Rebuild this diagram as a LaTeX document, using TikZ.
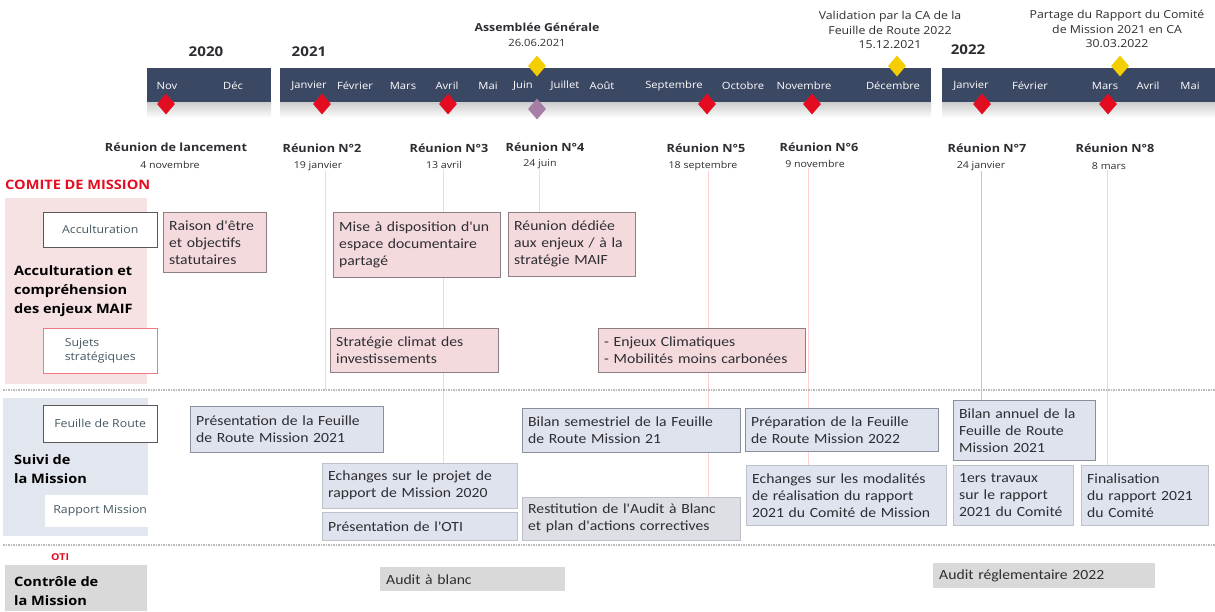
\documentclass[tikz,border=0pt]{standalone}
\usepackage{fontspec}
\setmainfont[FakeStretch=1.12]{Open Sans}
\newfontfamily\boxfont[FakeStretch=1.12]{Carlito}
\usetikzlibrary{shapes.geometric,backgrounds}

\definecolor{navy}{RGB}{59,72,100}
\definecolor{mred}{RGB}{228,12,32}
\definecolor{myellow}{RGB}{244,206,0}
\definecolor{mpurple}{RGB}{165,125,165}
\definecolor{pinkfill}{RGB}{244,218,221}
\definecolor{pinkpanel}{RGB}{246,225,227}
\definecolor{pinkline}{RGB}{140,126,130}
\definecolor{bluefill}{RGB}{223,227,237}
\definecolor{bluepanel}{RGB}{226,230,239}
\definecolor{blueline}{RGB}{138,143,158}
\definecolor{greyfill}{RGB}{217,217,217}
\definecolor{txt}{RGB}{45,45,50}
\definecolor{tagtxt}{RGB}{70,88,98}

\tikzset{
  monthlbl/.style={text=white, font=\fontsize{10}{11}\selectfont, inner sep=0pt},
  yearlbl/.style={font=\bfseries\fontsize{13.5}{15}\selectfont, text=txt, inner sep=0pt},
  meetlbl/.style={font=\bfseries\fontsize{11.3}{13}\selectfont, text=txt, inner sep=0pt},
  datelbl/.style={font=\fontsize{9.5}{10}\selectfont, text=txt, inner sep=0pt},
  annolbl/.style={font=\fontsize{11}{14.5}\selectfont, text=txt, align=center, inner sep=0pt},
  jalon/.style={diamond, minimum width=18pt, minimum height=21pt, inner sep=0pt},
  reddia/.style={jalon, fill=mred},
  yellowdia/.style={jalon, fill=myellow},
  purpledia/.style={jalon, fill=mpurple},
  vline/.style={draw=red!18, line width=0.8pt},
  sep/.style={draw=gray!55, densely dotted, line width=1.5pt},
  cmbox/.style={draw=pinkline, fill=pinkfill, anchor=north west, align=left,
    inner xsep=6pt, inner ysep=2pt, font=\boxfont\fontsize{14}{17}\selectfont, text=txt},
  subox/.style={cmbox, draw=blueline, fill=bluefill},
  subox2/.style={subox, draw=bluefill!85!black},
  ctrlbox/.style={cmbox, draw=none, fill=greyfill},
  tagbox/.style={draw=gray!70!black, fill=white, anchor=north west, inner sep=0pt,
    font=\fontsize{11}{14}\selectfont, text=tagtxt},
  section/.style={font=\bfseries\fontsize{13}{19}\selectfont, text=black,
    align=left, anchor=west, inner sep=0pt}
}

\begin{document}
\begin{tikzpicture}[x=1pt,y=-1pt]
  \useasboundingbox (0,0) rectangle (1215,611);

  % timeline bars
  \fill[navy] (147,68) rectangle (271,102);
  \fill[navy] (280,68) rectangle (931,102);
  \fill[navy] (942,68) rectangle (1215,102);
  \shade[top color=gray!40, bottom color=white] (147,102) rectangle (271,118);
  \shade[top color=gray!40, bottom color=white] (280,102) rectangle (931,118);
  \shade[top color=gray!40, bottom color=white] (942,102) rectangle (1215,118);

  \node[yearlbl] (y20) at (206,52) {2020};
  \node[yearlbl] (y21) at (309,52) {2021};
  \node[yearlbl] (y22) at (968,50) {2022};

  \foreach \x/\m in {167/Nov, 233/Déc, 309/Janvier, 355/Février, 403/Mars,
      447/Avril, 488/Mai, 523/Juin, 565/Juillet, 602/Août, 674/Septembre,
      743/Octobre, 804/Novembre, 893/Décembre, 971/Janvier, 1030/Février,
      1105/Mars, 1148/Avril, 1190/Mai}
    \node[monthlbl] (m\x) at (\x,86) {\m};

  % jalons
  \node[reddia] (d1) at (166,104) {};
  \node[reddia] (d2) at (322,104) {};
  \node[reddia] (d3) at (448,104) {};
  \node[reddia] (d5) at (707,104) {};
  \node[reddia] (d6) at (812,104) {};
  \node[reddia] (d7) at (982,104) {};
  \node[reddia] (d8) at (1108,104) {};
  \node[purpledia] (d4) at (537,109) {};
  \node[yellowdia] (ag-d) at (537,66) {};
  \node[yellowdia] (val-d) at (897,66) {};
  \node[yellowdia] (part-d) at (1120,66) {};

  \node[annolbl, font=\bfseries\fontsize{11}{12}\selectfont] (ag) at (537,27) {Assemblée Générale};
  \node[annolbl, font=\fontsize{10}{11}\selectfont] (agdate) at (537,43) {26.06.2021};
  \node[annolbl] (val) at (890,30) {Validation par la CA de la\\Feuille de Route 2022\\15.12.2021};
  \node[annolbl] (part) at (1117,29) {Partage du Rapport du Comité\\de Mission 2021 en CA\\30.03.2022};

  % reunions
  \node[meetlbl] (r1) at (176,147) {Réunion de lancement};
  \node[datelbl] (r1d) at (170,165) {4 novembre};
  \node[meetlbl] (r2) at (322,148) {Réunion N°2};
  \node[datelbl] (r2d) at (318,166) {19 janvier};
  \node[meetlbl] (r3) at (449,148) {Réunion N°3};
  \node[datelbl] (r3d) at (444,165) {13 avril};
  \node[meetlbl] (r4) at (545,147) {Réunion N°4};
  \node[datelbl] (r4d) at (540,164) {24 juin};
  \node[meetlbl] (r5) at (706,148) {Réunion N°5};
  \node[datelbl] (r5d) at (703,166) {18 septembre};
  \node[meetlbl] (r6) at (819,147) {Réunion N°6};
  \node[datelbl] (r6d) at (815,164) {9 novembre};
  \node[meetlbl] (r7) at (987,148) {Réunion N°7};
  \node[datelbl] (r7d) at (981,166) {24 janvier};
  \node[meetlbl] (r8) at (1115,148) {Réunion N°8};
  \node[datelbl] (r8d) at (1109,166) {8 mars};

  % left panels
  \fill[pinkpanel] (5,198) rectangle (147,384);
  \fill[bluepanel] (3,398) rectangle (148,536);
  \fill[greyfill] (5,565) rectangle (147,611);
  \draw[sep] (3,390) -- (1215,390);
  \draw[sep] (3,545) -- (1215,545);

  \node[section, text=mred] (cdm) at (5,185) {COMITE DE MISSION};
  \node[tagbox, minimum width=114pt, minimum height=35pt] (tacc) at (43,212) {Acculturation};
  \node[section] (acc) at (14,291) {Acculturation et\\compréhension\\des enjeux MAIF};
  \node[tagbox, draw=mred!55, minimum width=114pt, minimum height=45pt, align=left] (tsuj) at (43,328) {Sujets\\stratégiques};

  \node[tagbox, minimum width=114pt, minimum height=37pt] (tfdr) at (43,405) {Feuille de Route};
  \node[section] (suivi) at (14,469) {Suivi de\\la Mission};
  \node[tagbox, draw=none, minimum width=110pt, minimum height=32pt] (trm) at (45,495) {Rapport Mission};

  \node[section, text=mred, font=\bfseries\fontsize{9.5}{10}\selectfont] (oti) at (51,557) {OTI};
  \node[section] (ctrl) at (14,591) {Contrôle de\\la Mission};

  % comite de mission
  \node[cmbox, text width=91pt, minimum height=60pt] (raison) at (163,212) {Raison d'être\\et objectifs\\statutaires};
  \node[cmbox, text width=155pt, minimum height=65pt] (mise) at (333,212) {Mise à disposition d'un\\espace documentaire\\partagé};
  \node[cmbox, text width=115pt, minimum height=64pt] (dediee) at (508,212) {Réunion dédiée\\aux enjeux / à la\\stratégie MAIF};
  \node[cmbox, text width=156pt, minimum height=44pt] (climat) at (330,328) {Stratégie climat des\\investissements};
  \node[cmbox, text width=195pt, minimum height=44pt] (enjeux) at (598,328) {- Enjeux Climatiques\\- Mobilités moins carbonées};

  % suivi de la mission
  \node[subox, text width=181pt, minimum height=46pt] (pres21) at (190,406) {Présentation de la Feuille\\de Route Mission 2021};
  \node[subox2, text width=183pt, minimum height=45pt] (echproj) at (322,463) {Echanges sur le projet de\\rapport de Mission 2020};
  \node[subox2, text width=183pt, minimum height=28pt] (oti-p) at (322,512) {Présentation de l'OTI};
  \node[subox, text width=206pt, minimum height=44pt] (bilsem) at (522,408) {Bilan semestriel de la Feuille\\de Route Mission 21};
  \node[subox2, fill=bluefill!60!greyfill, text width=206pt, minimum height=43pt] (restit) at (522,497) {Restitution de l'Audit à Blanc\\et plan d'actions correctives};
  \node[subox, text width=181pt, minimum height=43pt] (prep22) at (745,408) {Préparation de la Feuille\\de Route Mission 2022};
  \node[subox2, text width=188pt, minimum height=60pt] (echmod) at (746,465) {Echanges sur les modalités\\de réalisation du rapport\\2021 du Comité de Mission};
  \node[subox, text width=130pt, minimum height=60pt] (bilan) at (953,400) {Bilan annuel de la\\Feuille de Route\\Mission 2021};
  \node[subox2, text width=108pt, minimum height=60pt] (travaux) at (953,465) {1ers travaux\\sur le rapport\\2021 du Comité};
  \node[subox2, text width=115pt, minimum height=60pt] (final) at (1081,465) {Finalisation\\du rapport 2021\\du Comité};

  % controle
  \node[ctrlbox, text width=173pt, minimum height=24pt] (audit) at (380,567) {Audit à blanc};
  \node[ctrlbox, text width=210pt, minimum height=25pt] (reglem) at (933,563) {Audit réglementaire 2022};

  % fils des reunions
  \coordinate (v2) at (325,390);
  \begin{pgfonlayer}{background}
    \draw[vline] (v2 |- r2d.south) -- (v2);
    \draw[vline] (443,0 |- r3d.south) -- (443,0 |- echproj.north);
    \draw[vline] (539,0 |- r4d.south) -- (539,0 |- dediee.north);
    \draw[vline] (708,0 |- r5d.south) -- (708,0 |- restit.north);
    \draw[vline] (808,0 |- r6d.south) -- (808,0 |- echmod.north);
    \draw[vline, draw=red!32] (981,0 |- r7d.south) -- (981,0 |- bilan.north);
    \draw[vline] (1107,0 |- r8d.south) -- (1107,0 |- final.north);
  \end{pgfonlayer}
\end{tikzpicture}
\end{document}
